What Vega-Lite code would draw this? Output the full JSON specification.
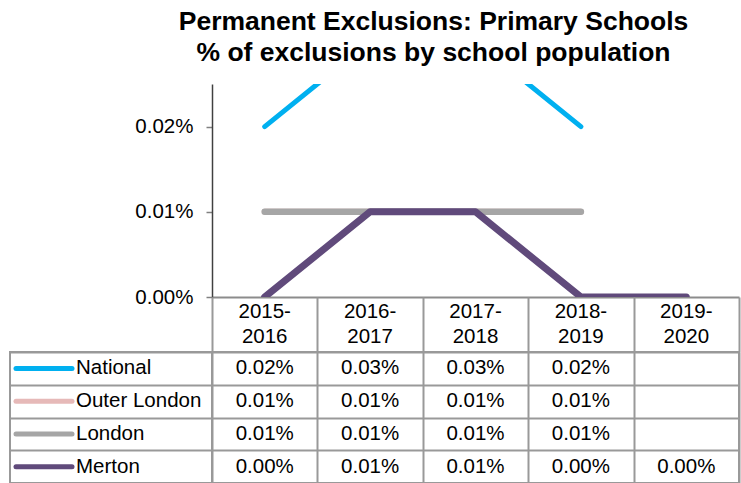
{
  "$schema": "https://vega.github.io/schema/vega-lite/v6.json",
  "padding": {"left": 5, "right": 2, "top": 8, "bottom": 0},
  "title": {
    "text": ["Permanent Exclusions: Primary Schools", "% of exclusions by school population"],
    "fontSize": 26.5,
    "fontWeight": "bold",
    "lineHeight": 31,
    "anchor": "middle",
    "offset": 18,
    "dx": 61,
    "color": "black",
    "font": "Liberation Sans"
  },
  "data": {
    "values": [
      {"year": "2015-2016", "series": "National", "value": 0.0002},
      {"year": "2016-2017", "series": "National", "value": 0.0003},
      {"year": "2017-2018", "series": "National", "value": 0.0003},
      {"year": "2018-2019", "series": "National", "value": 0.0002},
      {"year": "2015-2016", "series": "Outer London", "value": 0.0001},
      {"year": "2016-2017", "series": "Outer London", "value": 0.0001},
      {"year": "2017-2018", "series": "Outer London", "value": 0.0001},
      {"year": "2018-2019", "series": "Outer London", "value": 0.0001},
      {"year": "2015-2016", "series": "London", "value": 0.0001},
      {"year": "2016-2017", "series": "London", "value": 0.0001},
      {"year": "2017-2018", "series": "London", "value": 0.0001},
      {"year": "2018-2019", "series": "London", "value": 0.0001},
      {"year": "2015-2016", "series": "Merton", "value": 0},
      {"year": "2016-2017", "series": "Merton", "value": 0.0001},
      {"year": "2017-2018", "series": "Merton", "value": 0.0001},
      {"year": "2018-2019", "series": "Merton", "value": 0},
      {"year": "2019-2020", "series": "Merton", "value": 0}
    ]
  },
  "columns": 2,
  "spacing": 0,
  "bounds": "flush",
  "concat": [
    {
      "width": 202,
      "height": 213,
      "data": {"values": []},
      "mark": {"type": "point", "opacity": 0}
    },
    {
      "width": 527,
      "height": 213,
      "encoding": {
        "x": {
          "field": "year",
          "type": "ordinal",
          "scale": {"type": "point", "padding": 0.5, "domain": ["2015-2016", "2016-2017", "2017-2018", "2018-2019", "2019-2020"]},
          "axis": {"labels": false, "ticks": false, "title": null, "domainColor": "#8c8c8c", "domainWidth": 2}
        },
        "y": {
          "field": "value",
          "type": "quantitative",
          "scale": {"domain": [0, 0.00025], "nice": false},
          "axis": {
            "values": [0, 0.0001, 0.0002],
            "format": ".2%",
            "title": null,
            "grid": false,
            "tickSize": 6,
            "tickColor": "#808080",
            "tickWidth": 1.5,
            "labelPadding": 13,
            "domainColor": "#404040",
            "domainWidth": 1.5
          }
        }
      },
      "layer": [
        {
          "transform": [{"filter": "datum.series === 'National'"}],
          "mark": {"type": "line", "clip": true, "color": "#00B0F0", "strokeWidth": 5, "strokeCap": "round", "strokeJoin": "round"}
        },
        {
          "transform": [{"filter": "datum.series === 'Outer London'"}],
          "mark": {"type": "line", "clip": true, "color": "#E6B9B8", "strokeWidth": 6, "strokeCap": "round", "strokeJoin": "round"}
        },
        {
          "transform": [{"filter": "datum.series === 'London'"}],
          "mark": {"type": "line", "clip": true, "color": "#A6A6A6", "strokeWidth": 6.5, "strokeCap": "round", "strokeJoin": "round"}
        },
        {
          "transform": [{"filter": "datum.series === 'Merton'"}],
          "mark": {"type": "line", "clip": true, "color": "#604A7B", "strokeWidth": 7, "strokeCap": "round", "strokeJoin": "round"}
        }
      ]
    },
    {
      "width": 202,
      "height": 55,
      "data": {"values": []},
      "mark": {"type": "point", "opacity": 0}
    },
    {
      "width": 527,
      "height": 55,
      "transform": [
        {"filter": "datum.series === 'Merton'"},
        {"calculate": "[slice(datum.year, 0, 5), slice(datum.year, 5)]", "as": "hdr"}
      ],
      "mark": {"type": "text", "fontSize": 20.5, "lineHeight": 25, "dy": -12.5, "color": "black"},
      "encoding": {
        "x": {
          "field": "year",
          "type": "ordinal",
          "scale": {"domain": ["2015-2016", "2016-2017", "2017-2018", "2018-2019", "2019-2020"], "paddingInner": 0, "paddingOuter": 0},
          "axis": {"orient": "top", "grid": true, "tickBand": "extent", "labels": false, "ticks": false, "domain": false, "title": null, "gridColor": "#999999", "gridWidth": 2}
        },
        "text": {"field": "hdr", "type": "nominal"}
      }
    },
    {
      "width": 202,
      "height": 131,
      "view": {"stroke": "#999999", "strokeWidth": 2},
      "transform": [{"filter": "datum.year === '2015-2016'"}],
      "encoding": {
        "y": {
          "field": "series",
          "type": "nominal",
          "scale": {"domain": ["National", "Outer London", "London", "Merton"], "paddingInner": 0, "paddingOuter": 0},
          "axis": {"orient": "right", "grid": true, "tickBand": "extent", "labels": false, "ticks": false, "domain": false, "title": null, "gridColor": "#999999", "gridWidth": 2}
        }
      },
      "layer": [
        {
          "mark": {"type": "point", "shape": "M-1,0L1,0", "size": 3136, "filled": false, "strokeWidth": 5, "strokeCap": "round", "xOffset": -67, "opacity": 1},
          "encoding": {
            "color": {
              "field": "series",
              "type": "nominal",
              "scale": {"domain": ["National", "Outer London", "London", "Merton"], "range": ["#00B0F0", "#E6B9B8", "#A6A6A6", "#604A7B"]},
              "legend": null
            }
          }
        },
        {
          "mark": {"type": "text", "align": "left", "dx": -35, "fontSize": 20.5, "color": "black"},
          "encoding": {"text": {"field": "series", "type": "nominal"}}
        }
      ]
    },
    {
      "width": 527,
      "height": 131,
      "view": {"stroke": "#999999", "strokeWidth": 2},
      "mark": {"type": "text", "fontSize": 20.5, "color": "black"},
      "encoding": {
        "x": {
          "field": "year",
          "type": "ordinal",
          "scale": {"domain": ["2015-2016", "2016-2017", "2017-2018", "2018-2019", "2019-2020"], "paddingInner": 0, "paddingOuter": 0},
          "axis": {"orient": "top", "grid": true, "tickBand": "extent", "labels": false, "ticks": false, "domain": false, "title": null, "gridColor": "#999999", "gridWidth": 2}
        },
        "y": {
          "field": "series",
          "type": "nominal",
          "scale": {"domain": ["National", "Outer London", "London", "Merton"], "paddingInner": 0, "paddingOuter": 0},
          "axis": {"grid": true, "tickBand": "extent", "labels": false, "ticks": false, "domain": false, "title": null, "gridColor": "#999999", "gridWidth": 2}
        },
        "text": {"field": "value", "type": "quantitative", "format": ".2%"}
      }
    }
  ],
  "config": {
    "font": "Liberation Sans",
    "view": {"stroke": null},
    "axis": {"labelFont": "Liberation Sans", "labelFontSize": 20.5, "labelColor": "black"},
    "text": {"font": "Liberation Sans"}
  }
}
